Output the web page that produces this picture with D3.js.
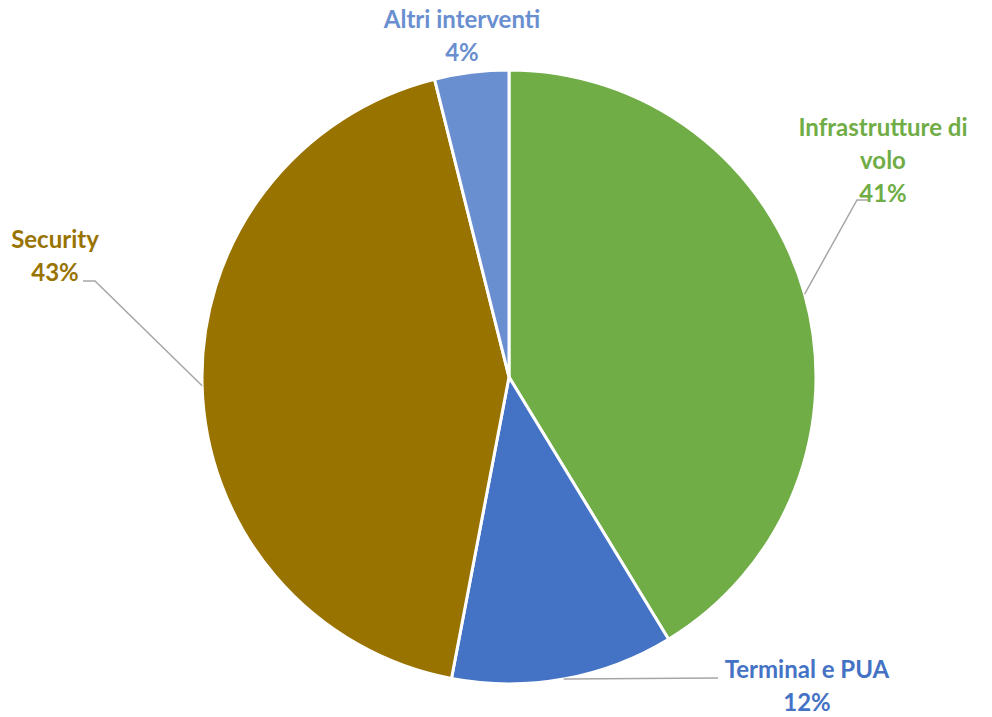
<!DOCTYPE html>
<html><head><meta charset="utf-8">
<script src="https://cdn.jsdelivr.net/npm/d3@7"></script>
<style>html,body{margin:0;padding:0;background:#fff;}svg{display:block;}</style>
</head><body>
<script>
const categories = ["Infrastrutture di volo", "Terminal e PUA", "Security", "Altri interventi"];
const values = [41.3, 11.7, 43.1, 3.9];
const colors = ["#70AD47", "#4472C4", "#997300", "#6A8FD0"];

const W = 992, H = 717;
const cx = 509, cy = 377, R = 307;
const svg = d3.select("body").append("svg").attr("width", W).attr("height", H);
const g = svg.append("g").attr("transform", `translate(${cx},${cy})`);

const data = categories.map((c, i) => ({name: c, value: values[i], color: colors[i]}));
const total = d3.sum(values);
const pie = d3.pie().value(d => d.value).sort(null);
const arc = d3.arc().innerRadius(0).outerRadius(R);
const arcs = pie(data);

g.selectAll("path.slice").data(arcs).join("path")
  .attr("class", "slice")
  .attr("d", arc)
  .attr("fill", d => d.data.color)
  .attr("stroke", "#fff").attr("stroke-width", 3).attr("stroke-linejoin", "round");

const fmt = d3.format(".0%");
const layout = {
  "Infrastrutture di volo": {lines: ["Infrastrutture di", "volo"], x: 883, y: 128, leader: [[857, 200], [868, 200]]},
  "Terminal e PUA": {lines: ["Terminal e PUA"], x: 807, y: 670, leader: [[718, 678]]},
  "Security": {lines: ["Security"], x: 55, y: 240, leader: [[95, 281], [83, 281]]},
  "Altri interventi": {lines: ["Altri interventi"], x: 462, y: 20, leader: null}
};
const lineH = 33;

arcs.forEach(a => {
  const L = layout[a.data.name];
  const mid = (a.startAngle + a.endAngle) / 2;
  const px = cx + R * Math.sin(mid), py = cy - R * Math.cos(mid);
  if (L.leader) {
    const pts = [[px, py], ...L.leader];
    svg.append("path").attr("d", d3.line()(pts))
      .attr("fill", "none").attr("stroke", "#A6A6A6").attr("stroke-width", 1.5);
  }
  const lines = [...L.lines, fmt(a.data.value / total)];
  const t = svg.append("text")
    .attr("font-family", "Lato, 'Open Sans', sans-serif")
    .attr("font-weight", "bold").attr("font-size", 24)
    .attr("fill", a.data.color).attr("text-anchor", "middle");
  lines.forEach((s, i) => {
    t.append("tspan").attr("x", L.x).attr("y", L.y + i * lineH).attr("dy", "0.35em").text(s);
  });
});
</script>
</body></html>
